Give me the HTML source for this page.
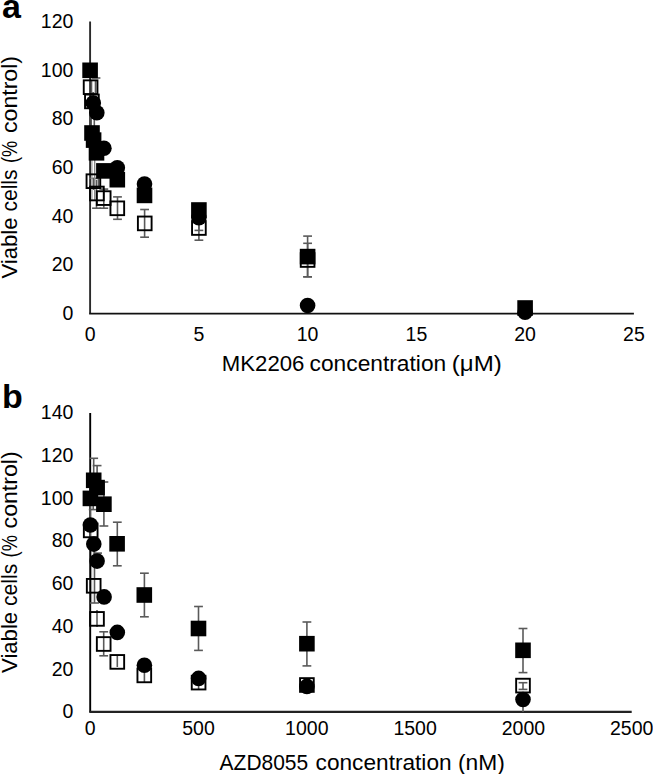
<!DOCTYPE html>
<html><head><meta charset="utf-8"><style>
html,body{margin:0;padding:0;background:#fff;}
body{width:653px;height:774px;overflow:hidden;}
svg{display:block;}
.t{font-family:"Liberation Sans", sans-serif;font-size:19.5px;fill:#000;}
.tt{font-family:"Liberation Sans", sans-serif;font-size:22px;fill:#000;}
.b{font-family:"Liberation Sans", sans-serif;font-size:34px;font-weight:bold;fill:#000;}
</style></head><body>
<svg width="653" height="774" viewBox="0 0 653 774">
<rect width="653" height="774" fill="#fff"/>
<text x="2" y="18.2" class="b">a</text>
<text x="2" y="407.7" class="b">b</text>
<text x="73.4" y="319.95" text-anchor="end" class="t">0</text>
<text x="73.4" y="271.28" text-anchor="end" class="t">20</text>
<text x="73.4" y="222.62" text-anchor="end" class="t">40</text>
<text x="73.4" y="173.95" text-anchor="end" class="t">60</text>
<text x="73.4" y="125.28" text-anchor="end" class="t">80</text>
<text x="73.4" y="76.62" text-anchor="end" class="t">100</text>
<text x="73.4" y="27.95" text-anchor="end" class="t">120</text>
<text x="90.1" y="340.6" text-anchor="middle" class="t">0</text>
<text x="198.9" y="340.6" text-anchor="middle" class="t">5</text>
<text x="307.6" y="340.6" text-anchor="middle" class="t">10</text>
<text x="416.4" y="340.6" text-anchor="middle" class="t">15</text>
<text x="525.1" y="340.6" text-anchor="middle" class="t">20</text>
<text x="633.9" y="340.6" text-anchor="middle" class="t">25</text>
<path d="M90.1,21.6 V313.6" fill="none" stroke="#2a2a2a" stroke-width="1.9"/>
<path d="M89.14999999999999,313.6 H633.9" fill="none" stroke="#111" stroke-width="1.9"/>
<g stroke="#5a5a5a" stroke-width="1.6" fill="none"><line x1="144.6" y1="209.5" x2="144.6" y2="237.2"/>
<line x1="140.2" y1="209.5" x2="149.0" y2="209.5"/>
<line x1="140.2" y1="237.2" x2="149.0" y2="237.2"/>
<line x1="198.9" y1="216.0" x2="198.9" y2="240.2"/>
<line x1="194.5" y1="240.2" x2="203.3" y2="240.2"/>
<line x1="198.9" y1="203.6" x2="198.9" y2="230.4"/>
<line x1="194.5" y1="230.4" x2="203.3" y2="230.4"/>
<line x1="307.6" y1="236.1" x2="307.6" y2="276.8"/>
<line x1="303.2" y1="236.1" x2="312.0" y2="236.1"/>
<line x1="303.2" y1="276.8" x2="312.0" y2="276.8"/>
<line x1="307.6" y1="243.3" x2="307.6" y2="276.8"/>
<line x1="303.2" y1="243.3" x2="312.0" y2="243.3"/>
<line x1="303.2" y1="276.8" x2="312.0" y2="276.8"/>
<line x1="117.5" y1="196.9" x2="117.5" y2="219.3"/>
<line x1="113.1" y1="196.9" x2="121.9" y2="196.9"/>
<line x1="113.1" y1="219.3" x2="121.9" y2="219.3"/>
<line x1="103.8" y1="189.1" x2="103.8" y2="208.2"/>
<line x1="99.4" y1="189.1" x2="108.2" y2="189.1"/>
<line x1="99.4" y1="208.2" x2="108.2" y2="208.2"/>
<line x1="96.5" y1="180.0" x2="96.5" y2="208.2"/>
<line x1="92.1" y1="208.2" x2="100.9" y2="208.2"/>
<line x1="93.4" y1="178.4" x2="93.4" y2="190.0"/>
<line x1="89.0" y1="178.4" x2="97.8" y2="178.4"/>
<line x1="91.9" y1="92" x2="91.9" y2="108"/>
<line x1="93.4" y1="92" x2="93.4" y2="108"/>
<line x1="96.0" y1="70.0" x2="96.0" y2="78.0"/>
<line x1="91.6" y1="78.0" x2="100.4" y2="78.0"/>
<line x1="91.2" y1="116" x2="91.2" y2="126"/>
<line x1="94.3" y1="116" x2="94.3" y2="126"/>
<line x1="91.9" y1="158" x2="91.9" y2="200" stroke="#a0a0a0" stroke-width="1.3"/>
<line x1="94.7" y1="158" x2="94.7" y2="200" stroke="#8a8a8a" stroke-width="1.4"/>
<line x1="98.5" y1="177.5" x2="98.5" y2="186"/>
<line x1="91.5" y1="80" x2="91.5" y2="93"/>
<line x1="95.5" y1="80" x2="95.5" y2="93"/></g>
<g fill="none" stroke="#000" stroke-width="1.9"><rect x="83.75" y="80.35" width="13.70" height="13.70"/>
<rect x="85.05" y="94.55" width="13.70" height="13.70"/>
<rect x="86.55" y="174.35" width="13.70" height="13.70"/>
<rect x="90.05" y="186.65" width="13.70" height="13.70"/>
<rect x="96.85" y="191.25" width="13.70" height="13.70"/>
<rect x="110.45" y="201.45" width="13.70" height="13.70"/>
<rect x="137.90" y="216.55" width="13.70" height="13.70"/>
<rect x="192.05" y="221.15" width="13.70" height="13.70"/>
<rect x="300.75" y="253.15" width="13.70" height="13.70"/></g>
<g fill="#000"><rect x="82.30" y="62.50" width="15.6" height="15.6"/>
<rect x="84.20" y="125.20" width="15.6" height="15.6"/>
<rect x="85.80" y="132.30" width="15.6" height="15.6"/>
<rect x="88.70" y="145.00" width="15.6" height="15.6"/>
<rect x="96.10" y="163.10" width="15.6" height="15.6"/>
<rect x="109.50" y="171.90" width="15.6" height="15.6"/>
<rect x="136.70" y="187.60" width="15.6" height="15.6"/>
<rect x="191.10" y="202.20" width="15.6" height="15.6"/>
<rect x="299.80" y="248.80" width="15.6" height="15.6"/>
<rect x="517.30" y="300.20" width="15.6" height="15.6"/></g>
<g fill="#000"><circle cx="93.3" cy="103.0" r="7.8"/>
<circle cx="96.8" cy="112.8" r="7.8"/>
<circle cx="103.9" cy="148.3" r="7.8"/>
<circle cx="117.3" cy="167.7" r="7.8"/>
<circle cx="144.5" cy="184.1" r="7.8"/>
<circle cx="198.9" cy="217.7" r="7.8"/>
<circle cx="307.6" cy="305.5" r="7.8"/>
<circle cx="525.1" cy="312.2" r="7.8"/></g>
<text x="221.80" y="370.8" class="tt" textLength="82.60" lengthAdjust="spacingAndGlyphs">MK2206</text>
<text x="309.60" y="370.8" class="tt" textLength="136.60" lengthAdjust="spacingAndGlyphs">concentration</text>
<text x="451.80" y="370.8" class="tt" textLength="50.00" lengthAdjust="spacingAndGlyphs">(μM)</text>
<text transform="translate(16.5,0) rotate(-90)" x="-278.60" y="0" class="tt" textLength="61.20" lengthAdjust="spacingAndGlyphs">Viable</text>
<text transform="translate(16.5,0) rotate(-90)" x="-211.60" y="0" class="tt" textLength="42.20" lengthAdjust="spacingAndGlyphs">cells</text>
<text transform="translate(16.5,0) rotate(-90)" x="-163.00" y="0" class="tt" textLength="22.20" lengthAdjust="spacingAndGlyphs">(%</text>
<text transform="translate(16.5,0) rotate(-90)" x="-133.00" y="0" class="tt" textLength="77.00" lengthAdjust="spacingAndGlyphs">control)</text>
<text x="73.4" y="718.25" text-anchor="end" class="t">0</text>
<text x="73.4" y="675.54" text-anchor="end" class="t">20</text>
<text x="73.4" y="632.82" text-anchor="end" class="t">40</text>
<text x="73.4" y="590.11" text-anchor="end" class="t">60</text>
<text x="73.4" y="547.39" text-anchor="end" class="t">80</text>
<text x="73.4" y="504.68" text-anchor="end" class="t">100</text>
<text x="73.4" y="461.96" text-anchor="end" class="t">120</text>
<text x="73.4" y="419.25" text-anchor="end" class="t">140</text>
<text x="90.2" y="734.6" text-anchor="middle" class="t">0</text>
<text x="198.5" y="734.6" text-anchor="middle" class="t">500</text>
<text x="306.8" y="734.6" text-anchor="middle" class="t">1000</text>
<text x="415.1" y="734.6" text-anchor="middle" class="t">1500</text>
<text x="523.4" y="734.6" text-anchor="middle" class="t">2000</text>
<text x="631.7" y="734.6" text-anchor="middle" class="t">2500</text>
<path d="M90.2,412.9 V711.9" fill="none" stroke="#000" stroke-width="1.9"/>
<path d="M89.25,711.9 H631.7" fill="none" stroke="#222" stroke-width="2.1"/>
<g stroke="#5a5a5a" stroke-width="1.6" fill="none"><line x1="93.7" y1="458.3" x2="93.7" y2="502.3"/>
<line x1="89.3" y1="458.3" x2="98.1" y2="458.3"/>
<line x1="97.1" y1="465.6" x2="97.1" y2="500"/>
<line x1="92.7" y1="465.6" x2="101.5" y2="465.6"/>
<line x1="103.9" y1="482.0" x2="103.9" y2="526.0"/>
<line x1="99.5" y1="482.0" x2="108.3" y2="482.0"/>
<line x1="99.5" y1="526.0" x2="108.3" y2="526.0"/>
<line x1="117.3" y1="522.2" x2="117.3" y2="565.8"/>
<line x1="112.9" y1="522.2" x2="121.7" y2="522.2"/>
<line x1="112.9" y1="565.8" x2="121.7" y2="565.8"/>
<line x1="144.4" y1="573.2" x2="144.4" y2="616.8"/>
<line x1="140.0" y1="573.2" x2="148.8" y2="573.2"/>
<line x1="140.0" y1="616.8" x2="148.8" y2="616.8"/>
<line x1="198.5" y1="606.5" x2="198.5" y2="650.4"/>
<line x1="194.1" y1="606.5" x2="202.9" y2="606.5"/>
<line x1="194.1" y1="650.4" x2="202.9" y2="650.4"/>
<line x1="306.9" y1="622.0" x2="306.9" y2="665.9"/>
<line x1="302.5" y1="622.0" x2="311.3" y2="622.0"/>
<line x1="302.5" y1="665.9" x2="311.3" y2="665.9"/>
<line x1="523.0" y1="628.5" x2="523.0" y2="672.6"/>
<line x1="518.6" y1="628.5" x2="527.4" y2="628.5"/>
<line x1="518.6" y1="672.6" x2="527.4" y2="672.6"/>
<line x1="103.7" y1="631.8" x2="103.7" y2="655.8"/>
<line x1="99.3" y1="631.8" x2="108.1" y2="631.8"/>
<line x1="99.3" y1="655.8" x2="108.1" y2="655.8"/>
<line x1="91.6" y1="540" x2="91.6" y2="603" stroke="#a0a0a0" stroke-width="1.2"/>
<line x1="94.5" y1="550" x2="94.5" y2="603"/>
<line x1="90.1" y1="603" x2="98.9" y2="603"/>
<line x1="90.4" y1="505" x2="90.4" y2="518"/>
<line x1="90.4" y1="525" x2="90.4" y2="537"/>
<line x1="93.2" y1="500" x2="93.2" y2="509.6"/>
<line x1="88.8" y1="509.6" x2="97.6" y2="509.6"/>
<line x1="97.6" y1="553.1" x2="97.6" y2="560"/>
<line x1="93.2" y1="553.1" x2="102.0" y2="553.1"/>
<line x1="97.0" y1="610" x2="97.0" y2="627"/>
<line x1="117.3" y1="656" x2="117.3" y2="667"/>
<line x1="144.4" y1="668" x2="144.4" y2="682"/>
<line x1="198.6" y1="680" x2="198.6" y2="690"/>
<line x1="523.0" y1="682.7" x2="523.0" y2="689.4"/>
<line x1="518.6" y1="682.7" x2="527.4" y2="682.7"/>
<line x1="518.6" y1="689.4" x2="527.4" y2="689.4"/>
<line x1="523.0" y1="699.5" x2="523.0" y2="712"/></g>
<g fill="none" stroke="#000" stroke-width="1.9"><rect x="83.85" y="523.55" width="13.70" height="13.70"/>
<rect x="86.85" y="578.95" width="13.70" height="13.70"/>
<rect x="90.15" y="612.05" width="13.70" height="13.70"/>
<rect x="96.85" y="637.15" width="13.70" height="13.70"/>
<rect x="110.45" y="655.05" width="13.70" height="13.70"/>
<rect x="137.45" y="668.55" width="13.70" height="13.70"/>
<rect x="191.75" y="675.75" width="13.70" height="13.70"/>
<rect x="300.05" y="678.15" width="13.70" height="13.70"/>
<rect x="516.15" y="678.75" width="13.70" height="13.70"/></g>
<g fill="#000"><rect x="82.60" y="490.60" width="15.6" height="15.6"/>
<rect x="85.90" y="472.50" width="15.6" height="15.6"/>
<rect x="89.30" y="479.80" width="15.6" height="15.6"/>
<rect x="96.10" y="496.40" width="15.6" height="15.6"/>
<rect x="109.30" y="536.00" width="15.6" height="15.6"/>
<rect x="136.50" y="587.20" width="15.6" height="15.6"/>
<rect x="190.70" y="620.70" width="15.6" height="15.6"/>
<rect x="299.10" y="635.90" width="15.6" height="15.6"/>
<rect x="515.20" y="642.50" width="15.6" height="15.6"/></g>
<g fill="#000"><circle cx="90.4" cy="525.0" r="7.8"/>
<circle cx="93.8" cy="544.1" r="7.8"/>
<circle cx="97.1" cy="561.1" r="7.8"/>
<circle cx="104.1" cy="596.9" r="7.8"/>
<circle cx="117.3" cy="632.4" r="7.8"/>
<circle cx="144.4" cy="665.2" r="7.8"/>
<circle cx="198.6" cy="678.4" r="7.8"/>
<circle cx="306.9" cy="686.4" r="7.8"/>
<circle cx="523.0" cy="699.5" r="7.8"/></g>
<text x="219.60" y="770.2" class="tt" textLength="88.60" lengthAdjust="spacingAndGlyphs">AZD8055</text>
<text x="315.60" y="770.2" class="tt" textLength="136.00" lengthAdjust="spacingAndGlyphs">concentration</text>
<text x="458.00" y="770.2" class="tt" textLength="46.80" lengthAdjust="spacingAndGlyphs">(nM)</text>
<text transform="translate(16.5,0) rotate(-90)" x="-673.00" y="0" class="tt" textLength="61.20" lengthAdjust="spacingAndGlyphs">Viable</text>
<text transform="translate(16.5,0) rotate(-90)" x="-606.00" y="0" class="tt" textLength="42.20" lengthAdjust="spacingAndGlyphs">cells</text>
<text transform="translate(16.5,0) rotate(-90)" x="-557.40" y="0" class="tt" textLength="22.20" lengthAdjust="spacingAndGlyphs">(%</text>
<text transform="translate(16.5,0) rotate(-90)" x="-528.40" y="0" class="tt" textLength="77.00" lengthAdjust="spacingAndGlyphs">control)</text>
</svg>
</body></html>
